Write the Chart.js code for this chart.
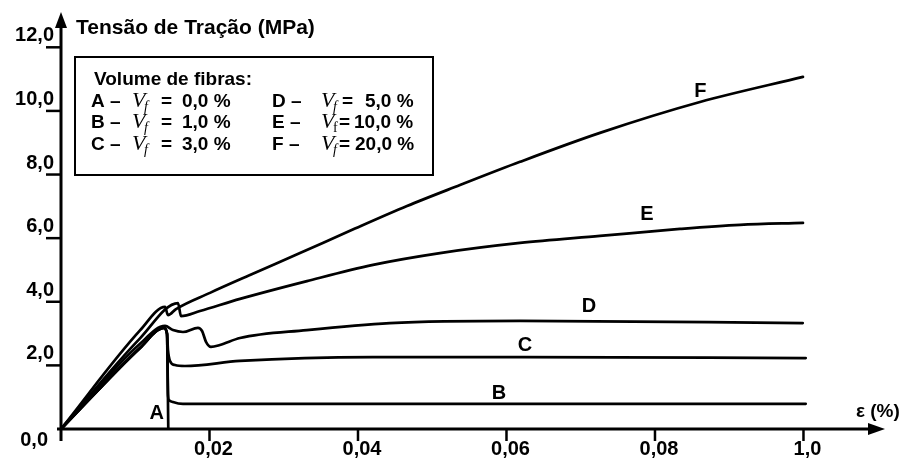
<!DOCTYPE html>
<html><head><meta charset="utf-8">
<script src="https://cdn.jsdelivr.net/npm/chart.js@4"></script>
<style>html,body{margin:0;padding:0;background:#fff}#wrap{width:906px;height:464px}</style>
</head><body><div id="wrap"><canvas id="c" width="906" height="464"></canvas></div>
<script>
// ---- data (strain in %, stress in MPa) ----
const strainA = [0, 0.01064, 0.01387, 0.01428, 0.01445];
const stressA = [0, 2.55, 3.18, 2.99, 0];
const strainB = [0, 0.01064, 0.01387, 0.01428, 0.01441, 0.01455, 0.01508, 0.01643, 0.1003];
const stressB = [0, 2.55, 3.18, 2.99, 1.07, 0.91, 0.85, 0.79, 0.79];
const strainC = [0, 0.01064, 0.01387, 0.01428, 0.01441, 0.01468, 0.01535, 0.0167, 0.0241, 0.042, 0.0618, 0.1003];
const stressC = [0, 2.55, 3.18, 2.99, 2.48, 2.14, 2.01, 1.98, 2.14, 2.26, 2.26, 2.23];
const strainD = [0, 0.01064, 0.01401, 0.01508, 0.01643, 0.01845, 0.0190, 0.01953, 0.0202, 0.0214, 0.0241, 0.0331, 0.0443, 0.0618, 0.0999];
const stressD = [0, 2.68, 3.24, 3.11, 3.05, 3.18, 3.08, 2.74, 2.58, 2.64, 2.86, 3.11, 3.33, 3.40, 3.33];
const strainE = [0, 0.01064, 0.01576, 0.01616, 0.01872, 0.02411, 0.03313, 0.04202, 0.05104, 0.06182, 0.07259, 0.08337, 0.09145, 0.09993];
const stressE = [0, 2.85, 3.96, 3.55, 3.71, 4.09, 4.65, 5.16, 5.53, 5.85, 6.07, 6.29, 6.42, 6.48];
const strainF = [0, 0.01064, 0.01401, 0.01441, 0.01549, 0.02007, 0.02545, 0.03219, 0.03892, 0.0466, 0.05374, 0.06182, 0.07259, 0.08606, 0.09993];
const stressF = [0, 3.10, 3.84, 3.58, 3.77, 4.28, 4.84, 5.53, 6.23, 7.01, 7.67, 8.40, 9.31, 10.28, 11.07];

const seriesNames = ['A', 'B', 'C', 'D', 'E', 'F'];
const fiberLetters = ['A', 'B', 'C', 'D', 'E', 'F'];
const fiberValues = ['0,0 %', '1,0 %', '3,0 %', '5,0 %', '10,0 %', '20,0 %'];

const xTickValues = [0.02, 0.04, 0.06, 0.08, 0.10];
const xTickLabels = ['0,02', '0,04', '0,06', '0,08', '1,0'];
const yTickValues = [2, 4, 6, 8, 10, 12];
const yTickLabels = ['2,0', '4,0', '6,0', '8,0', '10,0', '12,0'];

const yTitle = 'Tensão de Tração (MPa)';
const xTitle = 'ε (%)';
const legendTitle = 'Volume de fibras:';

// curve label anchors (data coords)
const labelStrain = [0.0129, 0.0590, 0.0625, 0.0711, 0.0789, 0.0861];
const labelStress = [0.50, 1.13, 2.61, 3.84, 6.73, 10.60];

function pts(xs, ys) { return xs.map((x, i) => ({ x: x, y: ys[i] })); }
const allX = [strainA, strainB, strainC, strainD, strainE, strainF];
const allY = [stressA, stressB, stressC, stressD, stressE, stressF];

const datasets = seriesNames.map((n, i) => ({
  label: n,
  data: pts(allX[i], allY[i]),
  borderColor: '#000',
  borderWidth: 2.7,
  pointRadius: 0,
  fill: false,
  cubicInterpolationMode: 'monotone',
  borderCapStyle: 'round',
  borderJoinStyle: 'round'
}));

const SANS = '"Liberation Sans", Arial, sans-serif';
const SERIF = '"Liberation Serif", "Times New Roman", serif';

const decor = {
  id: 'decor',
  afterDatasetsDraw(chart) {
    const ctx = chart.ctx;
    const xs = chart.scales.x, ys = chart.scales.y;
    const x0 = xs.getPixelForValue(0), y0 = ys.getPixelForValue(0);
    const xEnd = chart.chartArea.right, yTop = chart.chartArea.top;
    ctx.save();
    ctx.strokeStyle = '#000'; ctx.fillStyle = '#000';
    ctx.lineWidth = 3;
    // axes
    ctx.beginPath();
    ctx.moveTo(x0, y0 + 12); ctx.lineTo(x0, yTop + 10);
    ctx.moveTo(x0 - 4, y0); ctx.lineTo(xEnd - 12, y0);
    ctx.stroke();
    // arrows
    ctx.beginPath();
    ctx.moveTo(x0, yTop); ctx.lineTo(x0 - 6, yTop + 16); ctx.lineTo(x0 + 6, yTop + 16); ctx.closePath(); ctx.fill();
    ctx.beginPath();
    ctx.moveTo(xEnd, y0); ctx.lineTo(xEnd - 17, y0 - 6); ctx.lineTo(xEnd - 17, y0 + 6); ctx.closePath(); ctx.fill();
    // y ticks
    ctx.lineWidth = 2.5;
    ctx.font = 'bold 20px ' + SANS;
    ctx.textAlign = 'right'; ctx.textBaseline = 'alphabetic';
    yTickValues.forEach((v, i) => {
      const py = ys.getPixelForValue(v);
      ctx.beginPath(); ctx.moveTo(x0 - 15, py); ctx.lineTo(x0, py); ctx.stroke();
      ctx.fillText(yTickLabels[i], x0 - 7, py - 6);
    });
    ctx.fillText('0,0', x0 - 13, y0 + 17);
    // x ticks
    ctx.textAlign = 'center';
    xTickValues.forEach((v, i) => {
      const px = xs.getPixelForValue(v);
      ctx.beginPath(); ctx.moveTo(px, y0); ctx.lineTo(px, y0 + 12); ctx.stroke();
      ctx.fillText(xTickLabels[i], px + 4, y0 + 26);
    });
    // axis titles
    ctx.textAlign = 'left';
    ctx.font = 'bold 21px ' + SANS;
    ctx.fillText(yTitle, x0 + 15, yTop + 22);
    ctx.font = 'bold 19px ' + SANS;
    ctx.fillText(xTitle, 856, 417);
    // curve labels
    ctx.font = 'bold 20px ' + SANS;
    ctx.textAlign = 'center'; ctx.textBaseline = 'middle';
    seriesNames.forEach((n, i) => {
      ctx.fillText(n, xs.getPixelForValue(labelStrain[i]), ys.getPixelForValue(labelStress[i]));
    });
    // legend box
    ctx.lineWidth = 2;
    ctx.strokeRect(75, 57, 358, 118);
    ctx.textAlign = 'left'; ctx.textBaseline = 'alphabetic';
    ctx.font = 'bold 19px ' + SANS;
    ctx.fillText(legendTitle, 94, 85);
    const rowsY = [107, 128, 150];
    fiberLetters.forEach((L, i) => {
      const col = i < 3 ? 0 : 1;
      const by = rowsY[i % 3];
      const bx = col === 0 ? 91 : 272;
      ctx.font = 'bold 19px ' + SANS;
      ctx.fillText(L + ' \u2013', bx, by);
      const vx = col === 0 ? 132 : 321;
      ctx.save();
      ctx.translate(vx, by);
      ctx.scale(1.1, 1);
      ctx.font = 'italic 20px ' + SERIF;
      ctx.fillText('V', 0, 0);
      ctx.restore();
      const upright = (i === 4);
      ctx.font = (upright ? '' : 'italic ') + '14px ' + SERIF;
      ctx.fillText('f', vx + 12, by + 4);
      ctx.font = 'bold 19px ' + SANS;
      const eqX = col === 0 ? 161 : (i >= 4 ? 339 : 342);
      ctx.fillText('=', eqX, by);
      const valX = col === 0 ? 182 : (i === 3 ? 365 : (i === 4 ? 354 : 355));
      ctx.fillText(fiberValues[i], valX, by);
    });
    ctx.restore();
  }
};

new Chart(document.getElementById('c'), {
  type: 'line',
  data: { datasets: datasets },
  options: {
    responsive: false,
    animation: false,
    devicePixelRatio: 1,
    layout: { padding: { left: 61, right: 21, top: 12, bottom: 35 } },
    plugins: { legend: { display: false }, tooltip: { enabled: false } },
    scales: {
      x: { type: 'linear', min: 0, max: 0.11098, display: false },
      y: { type: 'linear', min: 0, max: 13.11, display: false }
    }
  },
  plugins: [decor]
});
</script>
</body></html>
